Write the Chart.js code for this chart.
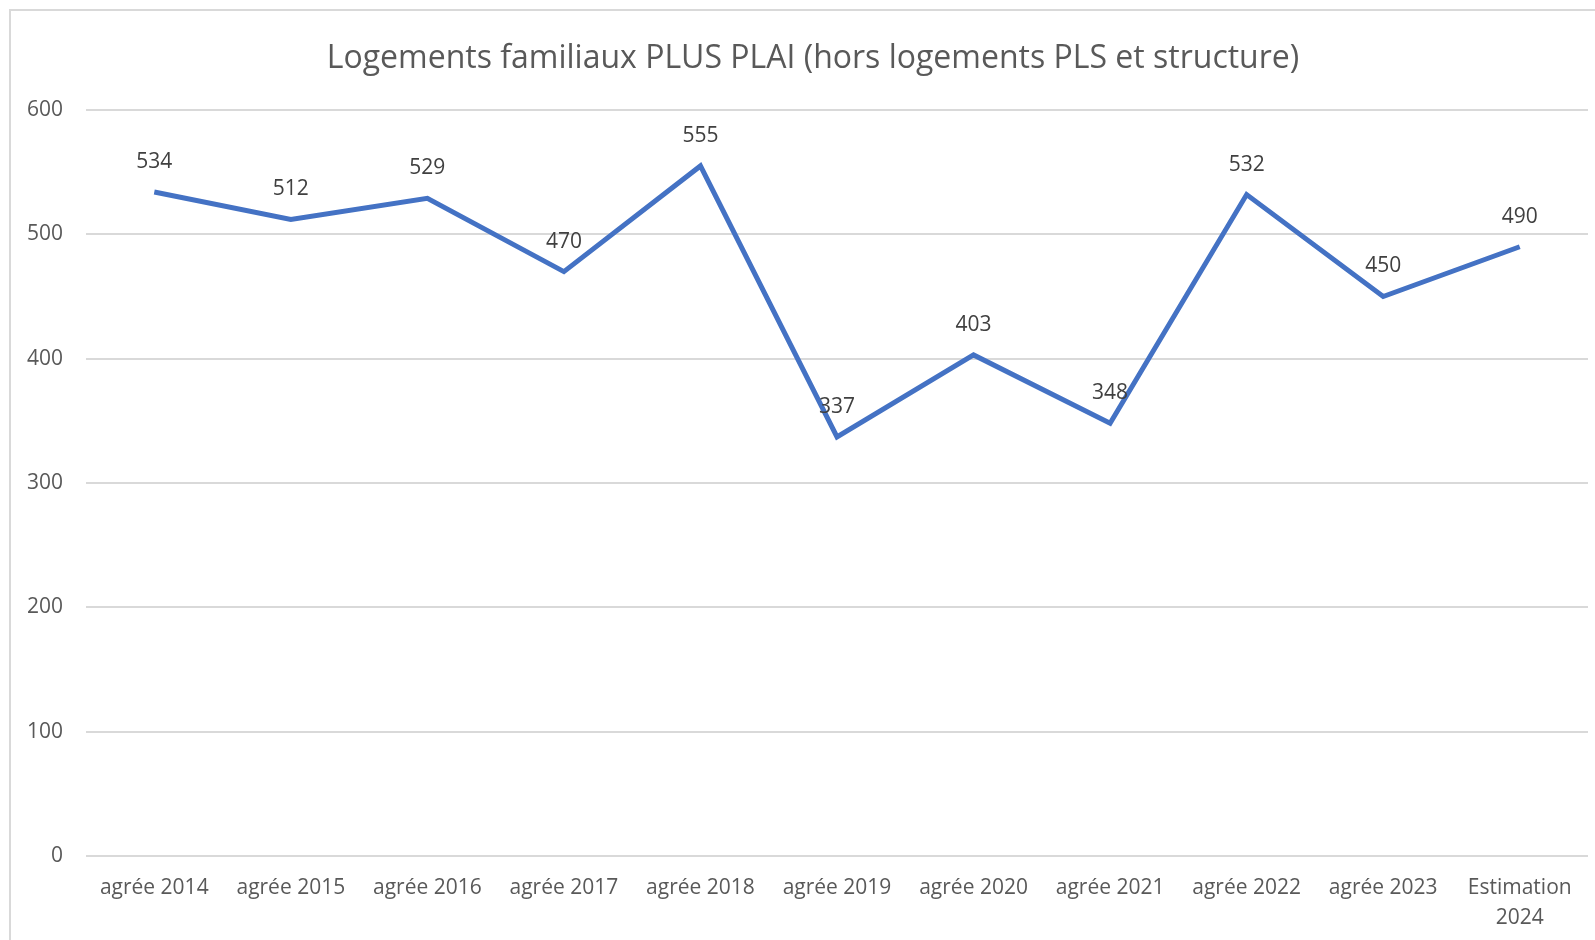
<!DOCTYPE html>
<html>
<head>
<meta charset="utf-8">
<script src="https://cdn.jsdelivr.net/npm/chart.js@4.4.1/dist/chart.umd.min.js"></script>
<style>
  html, body { margin: 0; padding: 0; background: #fff; }
  #wrap { position: relative; width: 1595px; height: 940px; }
  #frame { position: absolute; left: 9px; top: 9px; right: 0; bottom: 0; border-left: 2px solid #d9d9d9; border-top: 2px solid #d9d9d9; pointer-events: none; }
</style>
</head>
<body>
<div id="wrap">
  <canvas id="graph" width="1595" height="940"></canvas>
  <div id="frame"></div>
</div>
<script>
const categories = ['agrée 2014', 'agrée 2015', 'agrée 2016', 'agrée 2017', 'agrée 2018', 'agrée 2019',
  'agrée 2020', 'agrée 2021', 'agrée 2022', 'agrée 2023', ['Estimation', '2024']];
const logements = [534, 512, 529, 470, 555, 337, 403, 348, 532, 450, 490];
const yTicks = [0, 100, 200, 300, 400, 500, 600];
const titre = 'Logements familiaux PLUS PLAI (hors logements PLS et structure)';

const fontFam = "'Open Sans', 'Noto Sans', sans-serif";

// titre dessine a la main (centre un peu decale a droite comme l'original)
const titlePlugin = {
  id: 'titlePlugin',
  afterDraw(chart) {
    const ctx = chart.ctx;
    ctx.save();
    ctx.font = '32px ' + fontFam;
    ctx.fillStyle = '#595959';
    ctx.textAlign = 'center';
    ctx.textBaseline = 'middle';
    ctx.fillText(titre, 813, 59);
    ctx.restore();
  }
};

// labels de valeur au dessus des points
const valueLabels = {
  id: 'valueLabels',
  afterDatasetsDraw(chart) {
    const ctx = chart.ctx;
    const meta = chart.getDatasetMeta(0);
    ctx.save();
    ctx.font = '21px ' + fontFam;
    ctx.fillStyle = '#404040';
    ctx.textAlign = 'center';
    ctx.textBaseline = 'middle';
    meta.data.forEach((pt, i) => {
      ctx.fillText(String(logements[i]), pt.x, pt.y - 30);
    });
    ctx.restore();
  }
};

new Chart(document.getElementById('graph'), {
  type: 'line',
  data: {
    labels: categories,
    datasets: [{
      data: logements,
      borderColor: '#4472C4',
      borderWidth: 5,
      borderJoinStyle: 'miter',
      pointRadius: 0,
      tension: 0,
      fill: false
    }]
  },
  options: {
    responsive: false,
    animation: false,
    layout: { padding: { top: 110, right: 7, bottom: 0, left: 0 } },
    plugins: {
      legend: { display: false },
      tooltip: { enabled: false },
      title: { display: false }
    },
    scales: {
      x: {
        offset: true,
        grid: { display: false, drawTicks: false },
        border: { display: false },
        ticks: {
          color: '#595959',
          font: { family: fontFam, size: 21, lineHeight: 1.42 },
          padding: 17,
          maxRotation: 0,
          autoSkip: false
        },
        afterFit(scale) { scale.height = 84; }
      },
      y: {
        min: 0,
        max: 600,
        afterBuildTicks(scale) { scale.ticks = yTicks.map(v => ({ value: v })); },
        grid: { color: '#d9d9d9', lineWidth: 2, drawTicks: false },
        border: { display: false },
        ticks: {
          color: '#595959',
          font: { family: fontFam, size: 21 },
          padding: 23
        },
        afterFit(scale) { scale.width = 86; }
      }
    }
  },
  plugins: [valueLabels, titlePlugin]
});
</script>
</body>
</html>
